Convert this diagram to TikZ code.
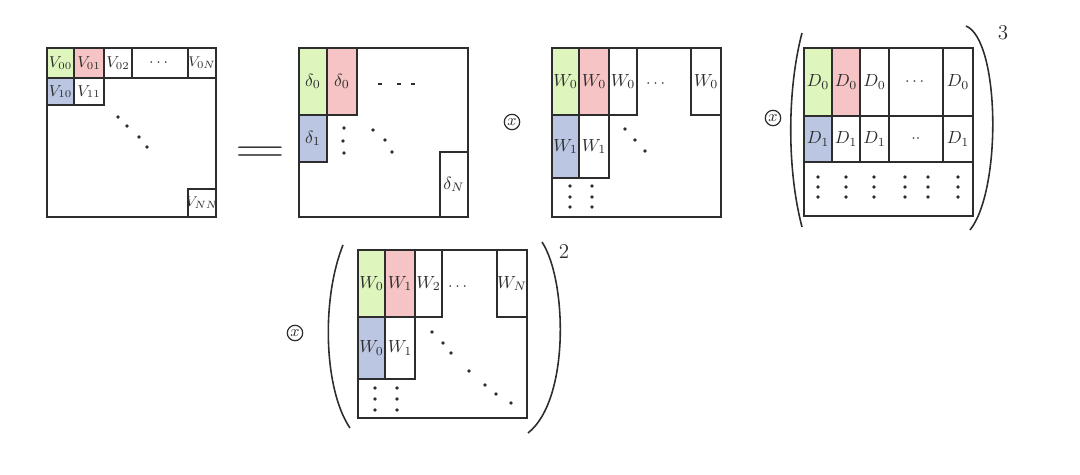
\documentclass[tikz,border=0pt]{standalone}
\usepackage{amsmath}
\usepackage{amssymb}
\usepackage{xcolor}
\usepackage{tikz}

\definecolor{cgreen}{RGB}{222,246,190}
\definecolor{cred}{RGB}{246,196,196}
\definecolor{cblue}{RGB}{186,198,226}
\definecolor{ink}{RGB}{45,45,45}

\begin{document}
\begin{tikzpicture}[x=0.02cm, y=-0.02cm, line width=0.9pt, draw=ink, text=ink,
  lbl/.style={inner sep=0pt, font=\small},
  big/.style={inner sep=0pt, font=\normalsize},
  times/.style={draw, circle, inner sep=0.8pt, line width=0.7pt, font=\small},
  expo/.style={inner sep=0pt, font=\large}]
\useasboundingbox (0,0) rectangle (1080,475);

% left hand side
\draw (47,48) rectangle (216,217);
\draw[fill=cgreen] (47,48) rectangle node[lbl] (v00) {$V_{00}$} (74,78);
\draw[fill=cred] (74,48) rectangle node[lbl] (v01) {$V_{01}$} (104,78);
\draw (104,48) rectangle node[lbl] (v02) {$V_{02}$} (132,78);
\draw (132,48) rectangle node[lbl] (v0d) {$\cdots$} (188,78);
\draw (188,48) rectangle node[lbl, font=\footnotesize] (v0n) {$V_{0N}$} (216,78);
\draw[fill=cblue] (47,78) rectangle node[lbl] (v10) {$V_{10}$} (74,105);
\draw (74,78) rectangle node[lbl] (v11) {$V_{11}$} (104,105);
\draw (188,189) rectangle node[lbl, font=\footnotesize] (vnn) {$V_{NN}$} (216,217);
\foreach \p in {(118,117),(127,126),(139,137),(147,147)}
  \fill[ink] \p circle (1.1pt);

\node[inner sep=0pt, font=\Huge, xscale=1.6] (eq) at (260,155) {$=$};

% delta
\draw (299,48) rectangle (468,217);
\draw[fill=cgreen] (299,48) rectangle node[big] (d0a) {$\delta_0$} (327,115);
\draw[fill=cred] (327,48) rectangle node[big] (d0b) {$\delta_0$} (357,115);
\draw[fill=cblue] (299,115) rectangle node[big] (d1) {$\delta_1$} (327,162);
\draw (440,152) rectangle node[big] (dn) {$\delta_N$} (468,217);
\foreach \a in {378,397,411}
  \draw[line width=0.8pt] (\a,84) -- (\a+4,84);
\foreach \p in {(344,128),(343,141),(344,153),(373,130),(385,140),(392,152)}
  \fill[ink] \p circle (1.1pt);

\node[times] (x1) at (512,122) {$x$};

% W
\draw (552,48) rectangle (721,217);
\draw[fill=cgreen] (552,48) rectangle node[big] (w0a) {$W_0$} (579,115);
\draw[fill=cred] (579,48) rectangle node[big] (w0b) {$W_0$} (609,115);
\draw (609,48) rectangle node[big] (w0c) {$W_0$} (637,115);
\draw (691,48) rectangle node[big] (w0n) {$W_0$} (721,115);
\node[lbl] (w0d) at (657,84) {$\cdots$};
\draw[fill=cblue] (552,115) rectangle node[big] (w1a) {$W_1$} (579,178);
\draw (579,115) rectangle node[big] (w1b) {$W_1$} (609,178);
\foreach \p in {(625,129),(635,140),(645,151),(570,186),(570,197),(570,207),(592,186),(592,197),(592,207)}
  \fill[ink] \p circle (1.1pt);

\node[times] (x2) at (773,118) {$x$};

% D, cubed
\draw (804,48) rectangle (973,216);
\draw[fill=cgreen] (804,48) rectangle node[big] (dd0a) {$D_0$} (832,116);
\draw[fill=cred] (832,48) rectangle node[big] (dd0b) {$D_0$} (860,116);
\draw (860,48) rectangle node[big] (dd0c) {$D_0$} (889,116);
\draw (889,48) rectangle node[lbl] (dd0d) {$\cdots$} (943,116);
\draw (943,48) rectangle node[big] (dd0n) {$D_0$} (973,116);
\draw[fill=cblue] (804,116) rectangle node[big] (dd1a) {$D_1$} (832,162);
\draw (832,116) rectangle node[big] (dd1b) {$D_1$} (860,162);
\draw (860,116) rectangle node[big] (dd1c) {$D_1$} (889,162);
\draw (889,116) rectangle node[lbl] (dd1d) {$\cdot\cdot$} (943,162);
\draw (943,116) rectangle node[big] (dd1n) {$D_1$} (973,162);
\foreach \a in {818,846,874,905,928,958}
  \foreach \b in {177,187,197}
    \fill[ink] (\a,\b) circle (1.1pt);
\draw (802,33) .. controls (787,90) and (787,170) .. (802,227);
\draw (966,26) .. controls (1000,40) and (1002,190) .. (970,230);
\node[expo] (p3) at (1003,33) {$3$};

% W, squared
\node[times] (x3) at (295,333) {$x$};
\draw (358,250) rectangle (527,418);
\draw[fill=cgreen] (358,250) rectangle node[big] (u0a) {$W_0$} (385,317);
\draw[fill=cred] (385,250) rectangle node[big] (u1a) {$W_1$} (415,317);
\draw (415,250) rectangle node[big] (u2) {$W_2$} (442,317);
\draw (497,250) rectangle node[big] (un) {$W_N$} (527,317);
\node[lbl] (ud) at (459,287) {$\cdots$};
\draw[fill=cblue] (358,317) rectangle node[big] (u0b) {$W_0$} (385,379);
\draw (385,317) rectangle node[big] (u1b) {$W_1$} (415,379);
\foreach \p in {(432,332),(443,343),(451,353),(469,371),(485,385),(496,394),(511,403),(375,388),(375,399),(375,410),(397,388),(397,399),(397,410)}
  \fill[ink] \p circle (1.1pt);
\draw (343,245) .. controls (321,300) and (324,390) .. (350,428);
\draw (542,242) .. controls (567,280) and (570,400) .. (528,433);
\node[expo] (p2) at (564,252) {$2$};
\end{tikzpicture}
\end{document}
